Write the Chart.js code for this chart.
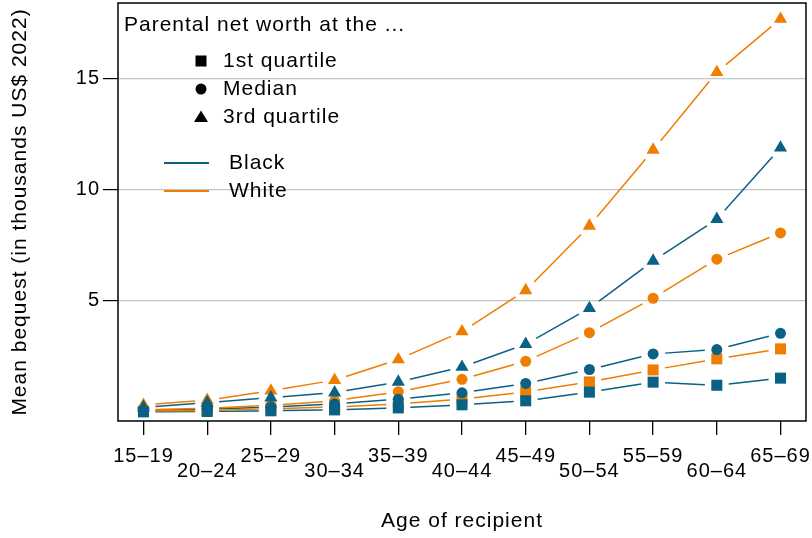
<!DOCTYPE html>
<html>
<head>
<meta charset="utf-8">
<script src="https://cdn.jsdelivr.net/npm/chart.js@4/dist/chart.umd.min.js"></script>
<style>
html, body { margin: 0; padding: 0; background: #fff; }
#wrap { width: 812px; height: 538px; }
</style>
</head>
<body>
<div id="wrap"><canvas id="bequestChart" width="812" height="538"></canvas></div>
<script>
// age groups of the recipient (x axis)
const ageGroups = ["15–19", "20–24", "25–29", "30–34", "35–39", "40–44", "45–49", "50–54", "55–59", "60–64", "65–69"]

// mean bequest, thousands US$ 2022, by parental net worth quartile
const whiteQ1 = [0.03, 0.06, 0.14, 0.22, 0.36, 0.58, 0.90, 1.35, 1.89, 2.39, 2.84]
const whiteMedian = [0.10, 0.16, 0.30, 0.50, 0.91, 1.47, 2.28, 3.57, 5.12, 6.88, 8.06]
const whiteQ3 = [0.31, 0.53, 0.95, 1.43, 2.36, 3.62, 5.47, 8.38, 11.80, 15.30, 17.70]

const blackQ1 = [0.00, 0.02, 0.05, 0.09, 0.18, 0.32, 0.50, 0.89, 1.34, 1.20, 1.52]
const blackMedian = [0.06, 0.12, 0.22, 0.36, 0.57, 0.86, 1.28, 1.91, 2.61, 2.81, 3.54]
const blackQ3 = [0.20, 0.42, 0.64, 0.87, 1.35, 2.02, 3.05, 4.67, 6.80, 8.68, 11.90]

const yTicks = [5, 10, 15]

const BLUE = "#0a6186"
const ORANGE = "#ef7d00"
const FONT = "'Liberation Sans', Arial, Helvetica, sans-serif"

function toPoints(arr){
  return arr.map((v, i) => ({x: i, y: v}))
}

function series(label, arr, color, style, radius, order){
  return {
    label: label,
    data: toPoints(arr),
    showLine: false,
    pointStyle: style,
    pointRadius: radius,
    pointHoverRadius: radius,
    pointBackgroundColor: color,
    pointBorderWidth: 0,
    borderColor: color,
    backgroundColor: color,
    order: order
  }
}

// no extra room for half-labels at the ends of an axis
function noEndPadding(s){
  s.paddingTop = 0
  s.paddingBottom = 0
  s.paddingLeft = 0
  s.paddingRight = 0
}

// R-style "b" lines: segments between points, stopped short of each marker
const gapLines = {
  id: "gapLines",
  beforeDatasetsDraw(chart){
    const ctx = chart.ctx
    const gap = 12
    ctx.save()
    ctx.lineWidth = 1.5
    chart.data.datasets.forEach((ds, di) => {
      const pts = chart.getDatasetMeta(di).data
      ctx.strokeStyle = ds.borderColor
      for(let i = 0; i < pts.length - 1; i++){
        const a = pts[i], b = pts[i + 1]
        const dx = b.x - a.x, dy = b.y - a.y
        const len = Math.hypot(dx, dy)
        if(len <= 2 * gap) continue
        const ux = dx / len, uy = dy / len
        ctx.beginPath()
        ctx.moveTo(a.x + ux * gap, a.y + uy * gap)
        ctx.lineTo(b.x - ux * gap, b.y - uy * gap)
        ctx.stroke()
      }
    })
    ctx.restore()
  }
}

// frame + the two-part legend in the top-left corner
const frameAndLegend = {
  id: "frameAndLegend",
  beforeDraw(chart){
    chart.ctx.letterSpacing = "1px"
  },
  afterDatasetsDraw(chart){
    const ctx = chart.ctx
    const a = chart.chartArea
    ctx.save()
    ctx.strokeStyle = "#000"
    ctx.lineWidth = 1.5
    ctx.strokeRect(a.left, a.top, a.right - a.left, a.bottom - a.top)

    ctx.fillStyle = "#000"
    ctx.font = "21px " + FONT
    ctx.textBaseline = "middle"
    ctx.textAlign = "left"
    ctx.fillText("Parental net worth at the ...", 124, 25)

    // marker shapes
    const mx = 201
    ctx.fillRect(mx - 5.5, 61 - 5.5, 11, 11)
    ctx.beginPath()
    ctx.arc(mx, 89, 5.5, 0, Math.PI * 2)
    ctx.fill()
    ctx.beginPath()
    ctx.moveTo(mx, 110.5)
    ctx.lineTo(mx + 7, 122)
    ctx.lineTo(mx - 7, 122)
    ctx.closePath()
    ctx.fill()
    ctx.fillText("1st quartile", 223, 61)
    ctx.fillText("Median", 223, 89)
    ctx.fillText("3rd quartile", 223, 117)

    // colour lines
    ctx.lineWidth = 2
    ctx.strokeStyle = BLUE
    ctx.beginPath(); ctx.moveTo(164, 163); ctx.lineTo(209, 163); ctx.stroke()
    ctx.strokeStyle = ORANGE
    ctx.beginPath(); ctx.moveTo(164, 191); ctx.lineTo(209, 191); ctx.stroke()
    ctx.fillText("Black", 229, 163)
    ctx.fillText("White", 229, 191)
    ctx.restore()
  }
}

const chart = new Chart(document.getElementById("bequestChart"), {
  type: "line",
  data: {
    datasets: [
      series("Black 1st quartile", blackQ1, BLUE, "rect", 7.8, 0),
      series("Black median", blackMedian, BLUE, "circle", 5.5, 0),
      series("Black 3rd quartile", blackQ3, BLUE, "triangle", 7.6, 0),
      series("White 1st quartile", whiteQ1, ORANGE, "rect", 7.8, 1),
      series("White median", whiteMedian, ORANGE, "circle", 5.5, 1),
      series("White 3rd quartile", whiteQ3, ORANGE, "triangle", 7.6, 1)
    ]
  },
  options: {
    responsive: false,
    animation: false,
    devicePixelRatio: 1,
    layout: {autoPadding: false, padding: {top: 3, right: 6, left: 0, bottom: 0}},
    plugins: {
      legend: {display: false},
      tooltip: {enabled: false}
    },
    scales: {
      x: {
        type: "linear",
        min: -0.4,
        max: 10.4,
        afterBuildTicks: s => { s.ticks = ageGroups.map((_, i) => ({value: i})) },
        afterFit: s => { s.height = 117; noEndPadding(s) },
        border: {display: false},
        grid: {drawOnChartArea: false, color: "#000", tickColor: "#000", tickLength: 14, lineWidth: 1.3},
        ticks: {
          autoSkip: false,
          maxRotation: 0,
          padding: 14,
          color: "#000",
          font: {family: FONT, size: 20, lineHeight: 0.75},
          // every other label drops to a second row
          callback: v => (v % 2 ? ["", ageGroups[v]] : ageGroups[v])
        },
        title: {
          display: true,
          text: "Age of recipient",
          color: "#000",
          font: {family: FONT, size: 21},
          padding: {top: 0, bottom: 4}
        }
      },
      y: {
        min: -0.41,
        max: 18.42,
        afterBuildTicks: s => { s.ticks = yTicks.map(v => ({value: v})) },
        afterFit: s => { s.width = 118; noEndPadding(s) },
        border: {display: false},
        grid: {color: "#c4c4c4", tickColor: "#000", tickLength: 15, lineWidth: 1.2},
        ticks: {
          padding: 3,
          color: "#000",
          font: {family: FONT, size: 20}
        },
        title: {
          display: true,
          text: "Mean bequest (in thousands US$ 2022)",
          color: "#000",
          font: {family: FONT, size: 21},
          padding: {top: 8, bottom: 0}
        }
      }
    }
  },
  plugins: [gapLines, frameAndLegend]
})
</script>
</body>
</html>
